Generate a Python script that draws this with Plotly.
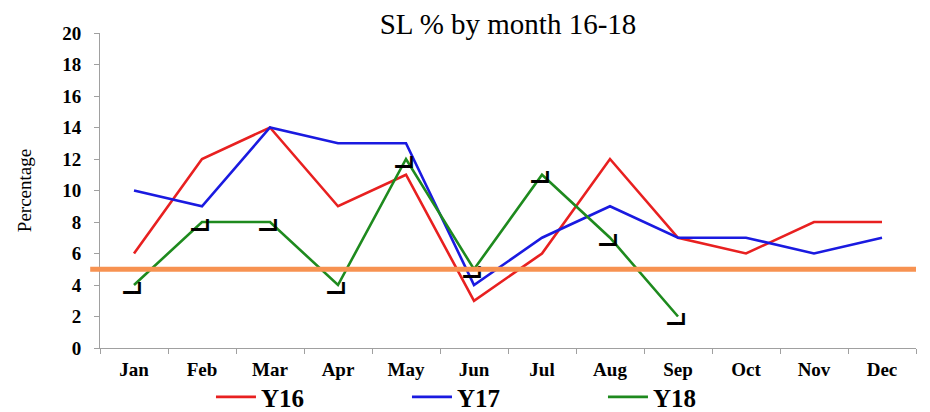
import plotly.graph_objects as go

months = ["Jan", "Feb", "Mar", "Apr", "May", "Jun", "Jul", "Aug", "Sep", "Oct", "Nov", "Dec"]
y16 = [6, 12, 14, 9, 11, 3, 6, 12, 7, 6, 8, 8]
y17 = [10, 9, 14, 13, 13, 4, 7, 9, 7, 7, 6, 7]
y18 = [4, 8, 8, 4, 12, 5, 11, 7, 2]
target = 5
y_ticks = list(range(0, 21, 2))

serif = "Liberation Serif, Times New Roman, serif"

fig = go.Figure()
fig.add_trace(go.Scatter(x=months, y=y16, name="Y16", mode="lines",
                         line=dict(color="#E82020", width=2.6)))
fig.add_trace(go.Scatter(x=months, y=y17, name="Y17", mode="lines",
                         line=dict(color="#1A1AE0", width=2.6)))
fig.add_trace(go.Scatter(x=months[:len(y18)], y=y18, name="Y18", mode="lines",
                         line=dict(color="#1E8A1E", width=2.6)))
# black corner markers next to Y18 points
fig.add_trace(go.Scatter(x=months[:len(y18)], y=y18, mode="text", text=["━┛"] * len(y18),
                         textposition="bottom center", showlegend=False, hoverinfo="skip",
                         textfont=dict(family="DejaVu Sans Mono", size=18, color="black",
                                       weight="bold")))

fig.add_shape(type="line", xref="paper", yref="y", x0=-0.012, x1=1.0, y0=target, y1=target,
              line=dict(color="#F79251", width=5), layer="above")

fig.update_layout(
    width=922, height=404,
    margin=dict(l=92, r=14, t=25, b=64, autoexpand=False),
    paper_bgcolor="white", plot_bgcolor="white",
    title=dict(text="SL % by month 16-18", x=0.5, xref="paper", y=0.961, yref="container",
               yanchor="middle",
               font=dict(family=serif, size=29, color="black")),
    showlegend=True,
    legend=dict(orientation="h", x=0.136, xanchor="left", y=-0.156, yanchor="middle",
                font=dict(family=serif, size=25, color="black", weight="bold"),
                entrywidth=141, entrywidthmode="pixels", itemwidth=40,
                bgcolor="rgba(0,0,0,0)"),
    xaxis=dict(type="category", showline=True, linecolor="#A0A0A0", linewidth=1,
               ticks="outside", tickson="boundaries", ticklen=5, tickcolor="#A0A0A0",
               showgrid=False, zeroline=False, range=[-0.5, 11.5], ticklabelstandoff=4,
               tickfont=dict(family=serif, size=19, color="black", weight="bold")),
    yaxis=dict(range=[0, 20], tickvals=y_ticks, showline=True, linecolor="#A0A0A0", linewidth=1,
               ticks="outside", ticklen=5, tickcolor="#A0A0A0", showgrid=False, zeroline=False,
               ticklabelstandoff=9,
               tickfont=dict(family=serif, size=19, color="black", weight="bold"),
               title=dict(text="Percentage", standoff=25,
                          font=dict(family=serif, size=19, color="black"))),
)

fig.write_html("out.html")
